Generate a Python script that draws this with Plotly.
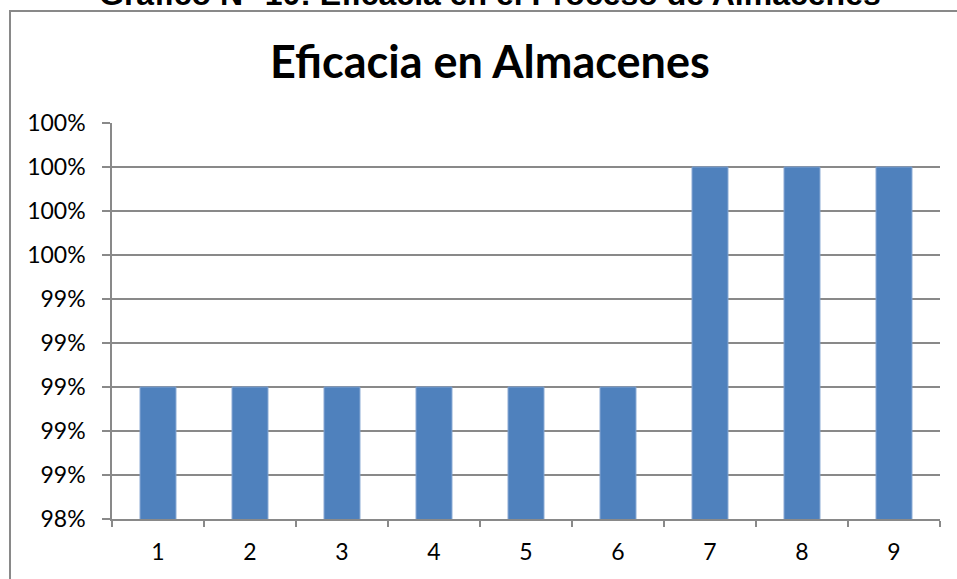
import plotly.graph_objects as go

# Eficacia por periodo (proporción)
periodos = ["1", "2", "3", "4", "5", "6", "7", "8", "9"]
eficacia = [0.99, 0.99, 0.99, 0.99, 0.99, 0.99, 1.00, 1.00, 1.00]
y_ticks = [0.984, 0.986, 0.988, 0.990, 0.992, 0.994, 0.996, 0.998, 1.000, 1.002]

W, H = 957, 579
L, R, T, B = 112, 17, 123, 60
pw, ph = W - L - R, H - T - B


def px_x(x):
    return (x - L) / pw


def px_y(y):
    return (H - B - y) / ph


grey = "#898989"
font_main = "Lato, 'Open Sans', sans-serif"

fig = go.Figure(
    go.Bar(
        x=periodos,
        y=eficacia,
        width=0.39,
        marker=dict(color="#4F81BD", line=dict(color="#7EA1CF", width=1)),
    )
)

fig.update_layout(
    width=W,
    height=H,
    margin=dict(l=L, r=R, t=T, b=B),
    paper_bgcolor="white",
    plot_bgcolor="white",
    showlegend=False,
    font=dict(family=font_main, size=23, color="black"),
    xaxis=dict(
        type="category",
        tickson="boundaries",
        ticks="outside",
        ticklen=6,
        tickcolor=grey,
        tickwidth=1.5,
        showline=True,
        linecolor=grey,
        linewidth=1.5,
        showgrid=False,
        ticklabelstandoff=12,
        tickfont=dict(family=font_main, size=23, color="black"),
    ),
    yaxis=dict(
        range=[y_ticks[0], y_ticks[-1]],
        tickvals=y_ticks,
        tickformat=".0%",
        ticks="outside",
        ticklen=8,
        tickcolor=grey,
        tickwidth=1.5,
        showline=True,
        linecolor=grey,
        linewidth=1.5,
        showgrid=True,
        gridcolor=grey,
        gridwidth=1.5,
        zeroline=False,
        ticklabelstandoff=12,
        tickfont=dict(family=font_main, size=23, color="black"),
    ),
    shapes=[
        dict(
            type="rect",
            xref="paper",
            yref="paper",
            x0=px_x(10),
            x1=px_x(W + 20),
            y0=px_y(H + 20),
            y1=px_y(11),
            line=dict(color=grey, width=2),
            fillcolor="rgba(0,0,0,0)",
            layer="below",
        )
    ],
    annotations=[
        dict(
            text="<b>Eficacia en Almacenes</b>",
            xref="paper",
            yref="paper",
            x=px_x(490),
            y=px_y(61),
            xanchor="center",
            yanchor="middle",
            showarrow=False,
            font=dict(family=font_main, size=45, color="black"),
        ),
        dict(
            text="<b>Gráfico N° 10: Eficacia en el Proceso de Almacenes</b>",
            xref="paper",
            yref="paper",
            x=px_x(490),
            y=px_y(-6),
            xanchor="center",
            yanchor="middle",
            showarrow=False,
            font=dict(family="Liberation Sans, Arial, sans-serif", size=32, color="black"),
        ),
    ],
)

fig.write_html("out.html")
